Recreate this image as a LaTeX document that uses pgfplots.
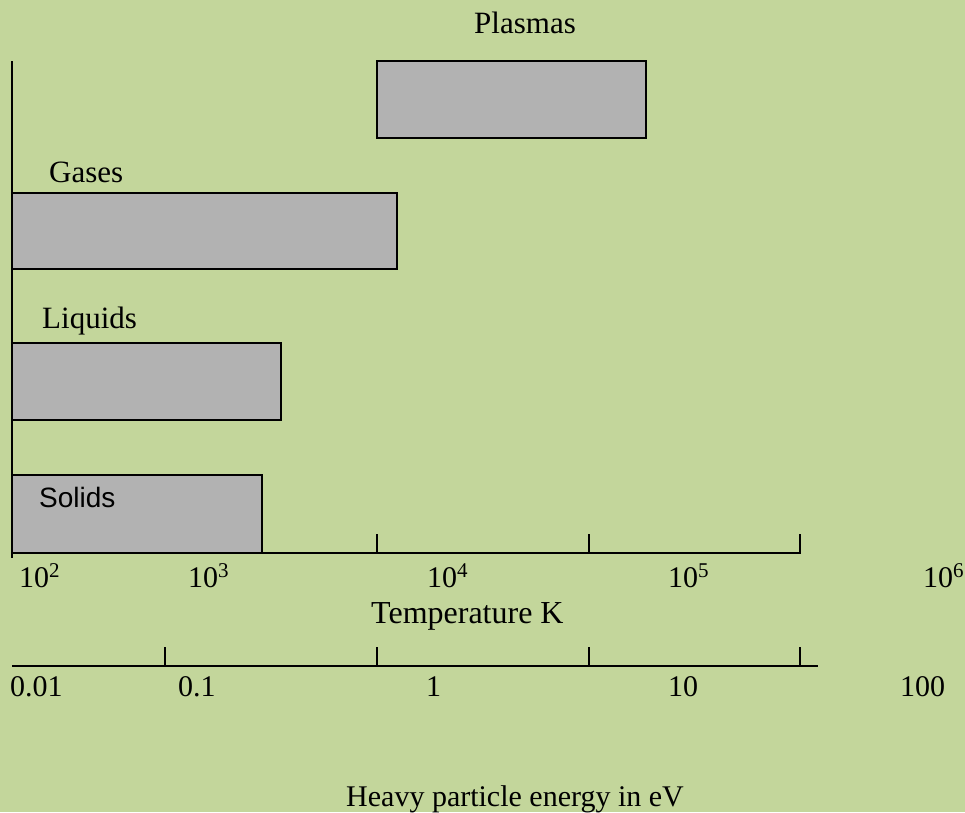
\documentclass[border=0pt]{standalone}
\usepackage{pgfplots}
\pgfplotsset{compat=1.18}
\usepackage{fontspec}
\setmainfont{Liberation Serif}
\newfontfamily\arialfont{Liberation Sans}
\definecolor{bg}{RGB}{195,214,155}
\definecolor{barfill}{RGB}{178,178,178}
\tikzset{
  lbl/.style={anchor=base west, inner sep=0pt, font=\fontsize{31}{37}\selectfont},
  tlbl/.style={anchor=base west, inner sep=0pt, font=\fontsize{30}{36}\selectfont},
}
\begin{document}
\begin{tikzpicture}
\begin{axis}[
  width=965pt, height=812pt, scale only axis,
  xmin=0, xmax=965, ymin=0, ymax=812, y dir=reverse,
  hide axis, clip=false,
]
% background
\addplot[fill=bg, draw=none] coordinates {(0,0) (965,0) (965,812) (0,812)} --cycle;
% bars: state ranges (schematic positions)
\addplot[draw=black, fill=barfill, line width=2.7pt] coordinates {(377,61) (646,61) (646,138) (377,138)} --cycle;   % Plasmas
\addplot[draw=black, fill=barfill, line width=2.7pt] coordinates {(12,193) (397,193) (397,269) (12,269)} --cycle;   % Gases
\addplot[draw=black, fill=barfill, line width=2.7pt] coordinates {(12,343) (281,343) (281,420) (12,420)} --cycle;   % Liquids
\addplot[draw=black, fill=barfill, line width=2.7pt] coordinates {(12,475) (262,475) (262,553) (12,553)} --cycle;   % Solids
% vertical axis line
\addplot[black, line width=2.7pt] coordinates {(12,61) (12,558)};
% temperature axis
\addplot[black, line width=2.7pt] coordinates {(12,553) (800,553) (800,534)};
\addplot[black, line width=2.7pt] coordinates {(377,534) (377,553)};
\addplot[black, line width=2.7pt] coordinates {(589,534) (589,553)};
% energy axis
\addplot[black, line width=2.7pt] coordinates {(12,666) (818,666)};
\addplot[black, line width=2.7pt] coordinates {(165,647) (165,666)};
\addplot[black, line width=2.7pt] coordinates {(377,647) (377,666)};
\addplot[black, line width=2.7pt] coordinates {(589,647) (589,666)};
\addplot[black, line width=2.7pt] coordinates {(800,647) (800,666)};
% bar labels
\node[lbl] at (axis cs:474,33) {Plasmas};
\node[lbl] at (axis cs:49,182) {Gases};
\node[lbl] at (axis cs:42,328) {Liquids};
\node[anchor=base west, inner sep=0pt, font=\arialfont\fontsize{28}{34}\selectfont] at (axis cs:39,507) {Solids};
% temperature labels
\node[tlbl] at (axis cs:19,587) {10\textsuperscript{2}};
\node[tlbl] at (axis cs:188,587) {10\textsuperscript{3}};
\node[tlbl] at (axis cs:427,587) {10\textsuperscript{4}};
\node[tlbl] at (axis cs:668,587) {10\textsuperscript{5}};
\node[tlbl] at (axis cs:923,587) {10\textsuperscript{6}};
\node[anchor=base west, inner sep=0pt, font=\fontsize{32}{38}\selectfont] at (axis cs:371,623) {Temperature K};
% energy labels
\node[tlbl] at (axis cs:10,696) {0.01};
\node[tlbl] at (axis cs:178,696) {0.1};
\node[tlbl] at (axis cs:426,696) {1};
\node[tlbl] at (axis cs:668,696) {10};
\node[tlbl] at (axis cs:900,696) {100};
\node[anchor=base west, inner sep=0pt, font=\fontsize{30}{36}\selectfont] at (axis cs:346,806) {Heavy particle energy in eV};
\end{axis}
\pgfresetboundingbox
\path[use as bounding box] (current axis.south west) rectangle (current axis.north east);
\end{tikzpicture}
\end{document}
